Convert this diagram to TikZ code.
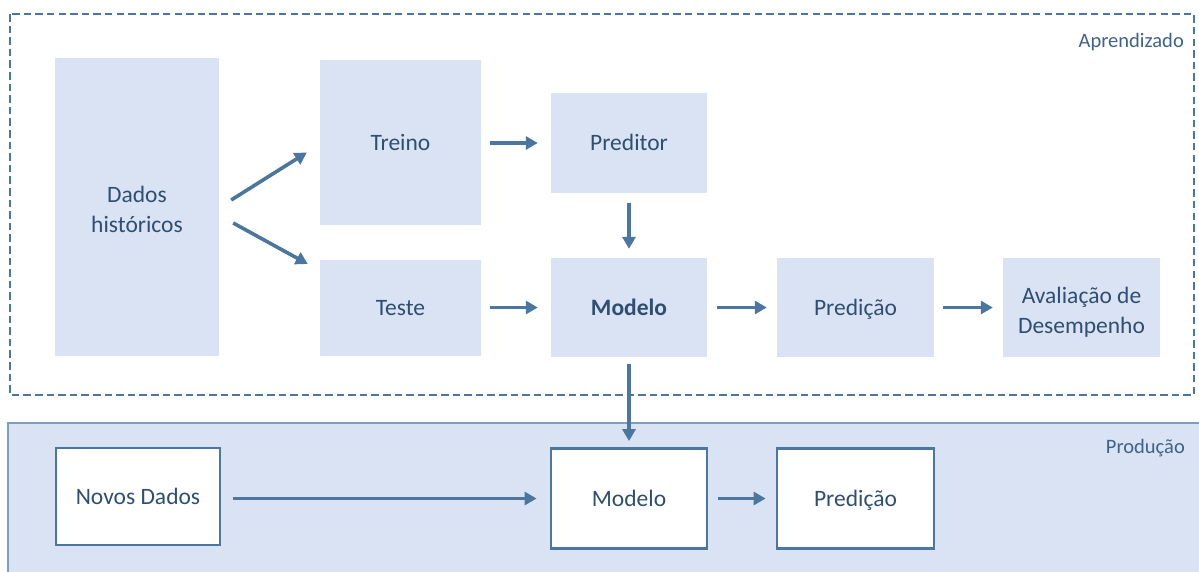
\documentclass[tikz,border=0pt]{standalone}
\usepackage{fontspec}
\setmainfont{Carlito}
\usetikzlibrary{arrows.meta,calc}

\definecolor{boxfill}{HTML}{DAE3F3}
\definecolor{flow}{HTML}{4A76A0}
\definecolor{txt}{HTML}{2E4E72}
\definecolor{lbl}{HTML}{3F628A}
\definecolor{prodedge}{HTML}{7F9DBF}

% uniform line box (22pt above, 7pt below the baseline) so every label
% sits on the same optical centre
\newcommand\lnstrut{\rule[-7pt]{0pt}{29pt}}
% taller first line for the two-line labels
\newcommand\topstrut{\rule[-7pt]{0pt}{35pt}}

\tikzset{
  block/.style={fill=boxfill, draw=none, text=txt, align=center,
    font=\fontsize{23.5}{30}\selectfont, inner sep=0pt,
    execute at begin node=\lnstrut},
  outblock/.style={fill=white, draw=flow, line width=2.8pt, text=txt, align=center,
    font=\fontsize{23.5}{30}\selectfont, inner sep=0pt,
    execute at begin node=\lnstrut},
  arr/.style={draw=flow, line width=3.6pt, -{Triangle[length=12pt,width=13pt]}},
  zonelabel/.style={text=lbl, font=\fontsize{20.5}{24}\selectfont, anchor=east, inner sep=0pt}
}

\begin{document}
\begin{tikzpicture}[x=1pt, y=-1pt]
  \useasboundingbox (0,0) rectangle (1199,571);

  % production zone
  \fill[boxfill] (8,423) rectangle (1199,575);
  \draw[prodedge, line width=1.7pt] (1199,423) -- (8,423) -- (8,575);
  \node[zonelabel] (prodlbl) at (1185,448) {Produção};

  % learning zone
  \draw[flow, line width=2.7pt, dash pattern=on 7.5pt off 4.1pt] (10,14) rectangle (1194,395);
  \node[zonelabel] (aprlbl) at (1184,42) {Aprendizado};

  % learning blocks
  \node[block, minimum width=164pt, minimum height=298pt] (dados) at (137,207) {\topstrut Dados\\\lnstrut históricos};
  \node[block, minimum width=161pt, minimum height=165pt] (treino) at (400.5,142.5) {Treino};
  \node[block, minimum width=161pt, minimum height=96pt] (teste) at (400.5,308) {Teste};
  \node[block, minimum width=156pt, minimum height=100pt] (preditor) at (629,143) {Preditor};
  \node[block, minimum width=156pt, minimum height=99pt] (modelo) at (629,307.5) {\textbf{Modelo}};
  \node[block, minimum width=157pt, minimum height=99pt] (predicao) at (855.5,307.5) {Predição};
  \node[block, minimum width=157pt, minimum height=99pt] (aval) at (1081.5,307.5) {\topstrut Avaliação de\\\lnstrut Desempenho};

  % production blocks
  \node[outblock, minimum width=164pt, minimum height=97pt] (novos) at (138,496.5) {Novos Dados};
  \node[outblock, minimum width=156pt, minimum height=100pt] (modelop) at (629,498.5) {Modelo};
  \node[outblock, minimum width=157pt, minimum height=100pt] (predicaop) at (855.5,498.5) {Predição};

  % learning flow
  \draw[arr] ($(dados.east)+(12,-7)$) -- ($(treino.west)+(-13,10)$);
  \draw[arr] ($(dados.east)+(14,16)$) -- ($(teste.west)+(-12,-44)$);
  \draw[arr, shorten <=9pt, shorten >=13pt] (treino.east |- preditor) -- (preditor.west);
  \draw[arr, shorten <=9pt, shorten >=13pt] (teste.east |- modelo) -- (modelo.west);
  \draw[arr, shorten <=10pt, shorten >=9pt] (preditor.south) -- (modelo.north);
  \draw[arr, shorten <=10pt, shorten >=10pt] (modelo.east) -- (predicao.west);
  \draw[arr, shorten <=9pt, shorten >=10pt] (predicao.east) -- (aval.west);

  % deployment
  \draw[arr, shorten <=7pt, shorten >=6pt] (modelo.south) -- (modelop.north);
  \draw[arr, shorten <=12pt, shorten >=13pt] (novos.east |- modelop) -- (modelop.west);
  \draw[arr, shorten <=10pt, shorten >=10pt] (modelop.east) -- (predicaop.west);
\end{tikzpicture}
\end{document}
